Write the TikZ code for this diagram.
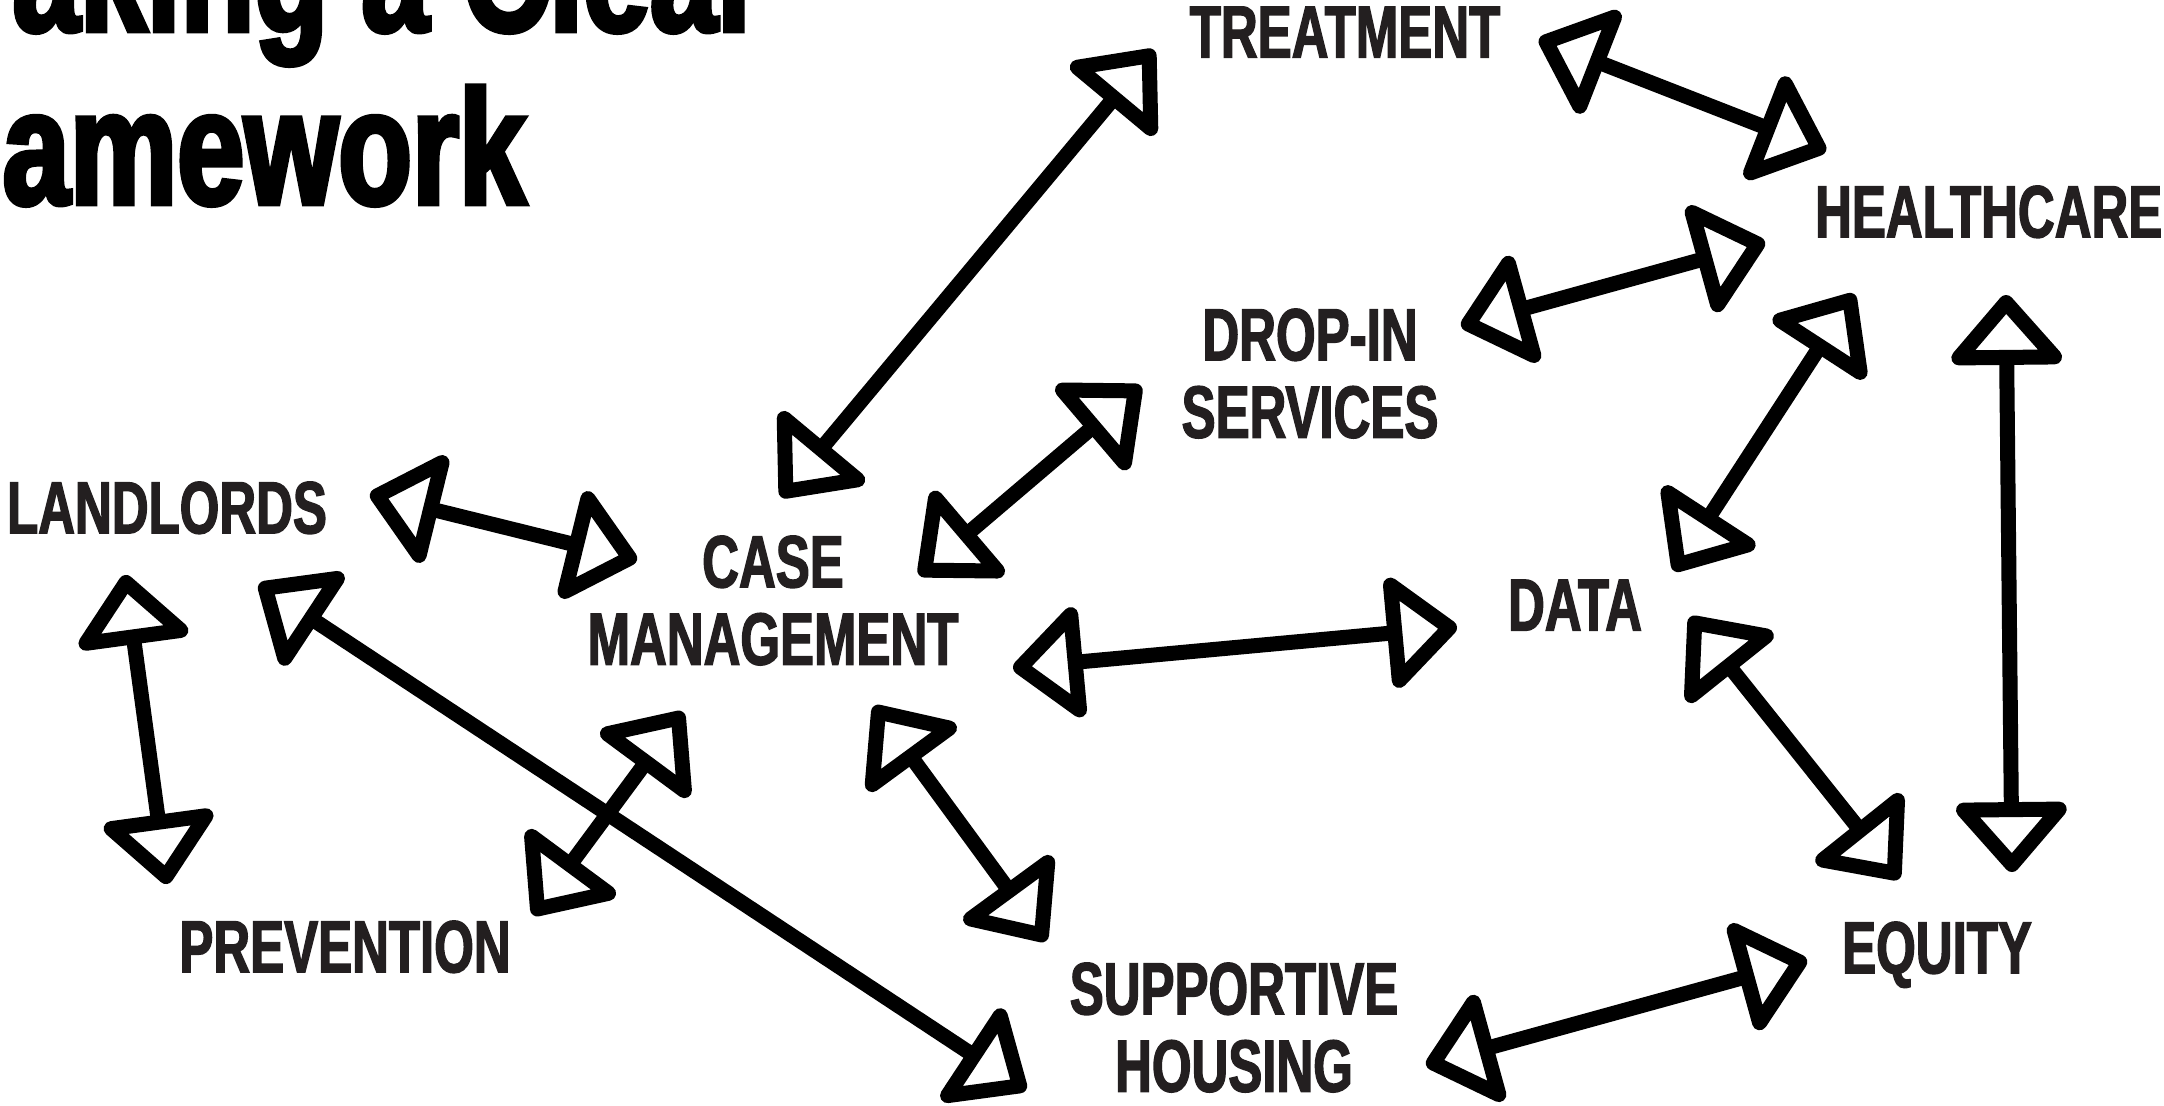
\documentclass[tikz,border=0pt]{standalone}
\usepackage{fontspec}
\usetikzlibrary{arrows.meta}
\newfontfamily\labelfont{Liberation Sans}[FakeStretch=0.69,BoldFeatures={FakeBold=1.8}]
\newfontfamily\titlefont{Liberation Sans}[FakeStretch=0.74,BoldFeatures={FakeBold=3}]
\definecolor{labelInk}{HTML}{231F20}
\tikzset{
  tag/.style={font=\labelfont\bfseries\fontsize{21}{22}\selectfont,text=labelInk,
    align=center,inner sep=0pt,anchor=north},
  headline/.style={font=\titlefont\bfseries\fontsize{46.4}{50}\selectfont,text=black,
    inner sep=0pt,anchor=base west},
  link/.style={{Triangle[open,round,length=7.4mm,width=12.5mm]}-{Triangle[open,round,length=7.4mm,width=12.5mm]},
    line width=1.5mm,draw=black},
}

\begin{document}
\begin{tikzpicture}[x=0.01cm,y=-0.01cm]
  \useasboundingbox (0,0) rectangle (2164,1105);
  \clip (0,0) rectangle (2164,1105);

  % slide heading, cut at the top
  \node[headline] (head1) at (12,31) {aking a Clear};
  \node[headline] (head2) at (2,204) {amework};

  % the services
  \node[tag] (treat) at (1345,6) {TREATMENT};
  \node[tag,anchor=north east] (health) at (2163,185) {HEALTHCARE};
  \node[tag] (dropin) at (1310,308) {DROP-IN\\SERVICES};
  \node[tag] (landl) at (167,481) {LANDLORDS};
  \node[tag] (casem) at (773,535) {CASE\\MANAGEMENT};
  \node[tag] (data) at (1575,579) {DATA};
  \node[tag] (prev) at (345,920) {PREVENTION};
  \node[tag] (supp) at (1234,962) {SUPPORTIVE\\HOUSING};
  \node[tag] (equity) at (1937,921) {EQUITY};

  % arrow ends next to each label
  \coordinate (casem-treat) at (781,497);   \coordinate (treat-casem) at (1154,50);
  \coordinate (treat-health) at (1539,39);  \coordinate (health-treat) at (1826,151);
  \coordinate (dropin-health) at (1461,326);\coordinate (health-dropin) at (1765,242);
  \coordinate (casem-dropin) at (919,575);  \coordinate (dropin-casem) at (1141,386);
  \coordinate (landl-casem) at (370,494);   \coordinate (casem-landl) at (637,560);
  \coordinate (landl-prev) at (125,575);    \coordinate (prev-landl) at (167,884);
  \coordinate (landl-supp) at (259,584);    \coordinate (supp-landl) at (1026,1090);
  \coordinate (prev-casem) at (533,915);    \coordinate (casem-prev) at (683,712);
  \coordinate (casem-supp) at (874,706);    \coordinate (supp-casem) at (1046,941);
  \coordinate (casem-data) at (1013,668);   \coordinate (data-casem) at (1457,627);
  \coordinate (data-health) at (1674,571);  \coordinate (health-data) at (1854,294);
  \coordinate (data-equity) at (1690,617);  \coordinate (equity-data) at (1899,879);
  \coordinate (health-equity) at (2006,295);\coordinate (equity-health) at (2012,872);
  \coordinate (supp-equity) at (1426,1065); \coordinate (equity-supp) at (1807,960);

  \foreach \a/\b in {casem/treat,treat/health,dropin/health,casem/dropin,landl/casem,
      landl/prev,landl/supp,prev/casem,casem/supp,casem/data,data/health,data/equity,
      health/equity,supp/equity}
    \draw[link] (\a-\b) -- (\b-\a);
\end{tikzpicture}
\end{document}
